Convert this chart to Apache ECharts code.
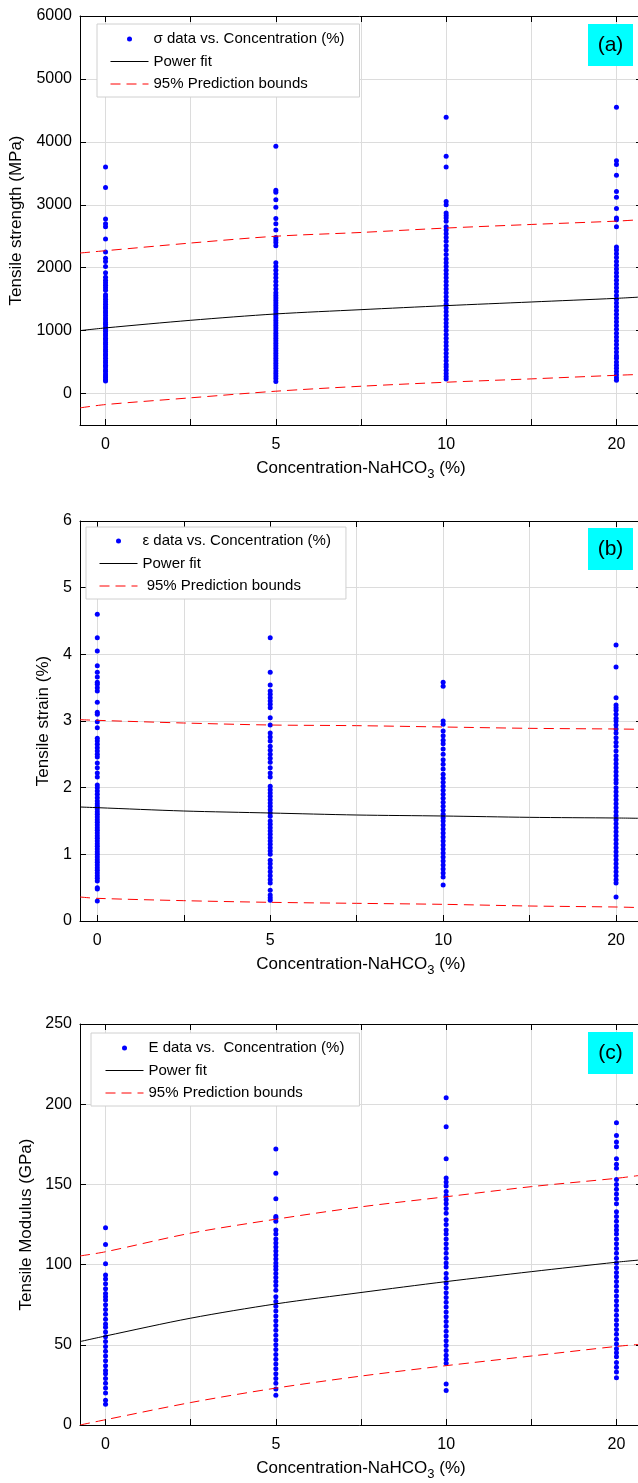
<!DOCTYPE html>
<html><head><meta charset="utf-8">
<script src="https://cdn.jsdelivr.net/npm/echarts@6/dist/echarts.min.js"></script>
<style>html,body{margin:0;padding:0;background:#fff}#c{width:638px;height:1483px}</style>
</head><body><div id="c"></div>
<script>
// ---- categories / ticks ----
const catPos = [0, 5, 10, 15];
const catLabels = ['0', '5', '10', '20'];
const xTickPos = [0, 2.5, 5, 7.5, 10, 12.5, 15];

// ---- panel (a) tensile strength (MPa) ----
const sigma0 = [3600, 3275, 2775, 2700, 2650, 2455, 2250, 2150, 2100, 2020, 1920, 1850, 1800, 1760, 1720, 1680, 1640, 1570, 1540, 1500, 1460, 1420, 1380, 1350, 1310, 1280, 1240, 1200, 1170, 1130, 1100, 1060, 1020, 990, 950, 920, 880, 850, 810, 780, 740, 700, 670, 630, 600, 560, 520, 490, 450, 420, 380, 350, 310, 280, 250, 220, 200];
const sigma5 = [3930, 3230, 3200, 3080, 2960, 2780, 2700, 2600, 2480, 2440, 2400, 2350, 2080, 2020, 1960, 1900, 1840, 1780, 1720, 1660, 1600, 1560, 1520, 1480, 1440, 1400, 1360, 1320, 1280, 1240, 1200, 1160, 1120, 1080, 1040, 1000, 960, 920, 880, 840, 800, 760, 720, 680, 640, 600, 560, 520, 480, 440, 400, 360, 320, 280, 240, 190];
const sigma10 = [4390, 3770, 3600, 3050, 3000, 2870, 2830, 2790, 2740, 2650, 2600, 2540, 2480, 2420, 2350, 2280, 2210, 2140, 2080, 2020, 1960, 1900, 1840, 1780, 1720, 1660, 1600, 1540, 1480, 1420, 1360, 1300, 1240, 1180, 1120, 1060, 1000, 940, 880, 820, 760, 700, 640, 580, 520, 460, 420, 370, 320, 270, 230];
const sigma20 = [4550, 3700, 3640, 3470, 3210, 3120, 2940, 2790, 2760, 2650, 2330, 2280, 2220, 2160, 2100, 2040, 1980, 1920, 1860, 1800, 1740, 1680, 1620, 1560, 1500, 1440, 1380, 1320, 1260, 1200, 1140, 1080, 1020, 960, 900, 840, 780, 720, 660, 600, 560, 500, 450, 400, 350, 300, 250, 210];
const fitPosA = [-0.75, 0, 2.5, 5, 7.5, 10, 12.5, 15, 15.75];
const sigmaFit = [1000, 1043, 1164, 1265, 1333, 1397, 1455, 1513, 1535];
const sigmaUp = [2233, 2270, 2392, 2500, 2560, 2630, 2687, 2740, 2765];
const sigmaLo = [-228, -175, -68, 37, 116, 180, 233, 290, 305];

// ---- panel (b) tensile strain (%) ----
const eps0 = [4.6, 4.25, 4.05, 3.83, 3.73, 3.66, 3.58, 3.55, 3.5, 3.45, 3.28, 3.13, 3.1, 2.99, 2.9, 2.74, 2.7, 2.65, 2.6, 2.55, 2.5, 2.46, 2.37, 2.3, 2.22, 2.16, 2.04, 2.0, 1.95, 1.9, 1.85, 1.8, 1.76, 1.72, 1.68, 1.64, 1.6, 1.56, 1.52, 1.48, 1.44, 1.4, 1.36, 1.32, 1.28, 1.24, 1.2, 1.16, 1.12, 1.08, 1.04, 1.0, 0.96, 0.92, 0.88, 0.84, 0.8, 0.76, 0.72, 0.68, 0.64, 0.6, 0.5, 0.48, 0.3];
const eps5 = [4.25, 3.73, 3.54, 3.45, 3.4, 3.35, 3.3, 3.25, 3.2, 3.05, 2.94, 2.82, 2.76, 2.7, 2.62, 2.56, 2.5, 2.44, 2.38, 2.3, 2.22, 2.16, 2.02, 1.97, 1.92, 1.87, 1.82, 1.77, 1.72, 1.67, 1.62, 1.57, 1.5, 1.45, 1.4, 1.35, 1.3, 1.25, 1.2, 1.15, 1.1, 1.05, 1.0, 0.91, 0.86, 0.8, 0.74, 0.68, 0.62, 0.57, 0.46, 0.39, 0.35, 0.31];
const eps10 = [3.58, 3.52, 3.0, 2.95, 2.85, 2.78, 2.71, 2.66, 2.58, 2.5, 2.42, 2.35, 2.28, 2.2, 2.14, 2.08, 2.02, 1.96, 1.9, 1.84, 1.78, 1.72, 1.66, 1.6, 1.55, 1.5, 1.44, 1.38, 1.32, 1.26, 1.2, 1.14, 1.08, 1.02, 0.96, 0.9, 0.84, 0.78, 0.72, 0.66, 0.54];
const eps20 = [4.14, 3.81, 3.35, 3.24, 3.2, 3.16, 3.1, 3.04, 3.0, 2.94, 2.88, 2.82, 2.75, 2.68, 2.62, 2.55, 2.48, 2.42, 2.36, 2.3, 2.24, 2.18, 2.12, 2.07, 2.0, 1.94, 1.88, 1.82, 1.76, 1.7, 1.64, 1.58, 1.52, 1.46, 1.4, 1.34, 1.28, 1.22, 1.16, 1.1, 1.04, 0.98, 0.92, 0.86, 0.8, 0.74, 0.68, 0.62, 0.57, 0.36];
const fitPosB = [-0.5, 0, 2.5, 5, 7.5, 10, 12.5, 15, 15.75];
const epsFit = [1.71, 1.70, 1.65, 1.62, 1.59, 1.575, 1.555, 1.545, 1.54];
const epsUp = [3.02, 3.01, 2.97, 2.94, 2.93, 2.91, 2.89, 2.88, 2.875];
const epsLo = [0.36, 0.34, 0.305, 0.28, 0.265, 0.25, 0.225, 0.21, 0.2];

// ---- panel (c) tensile modulus (GPa) ----
const E0 = [123, 112.5, 100.5, 93.5, 91, 88, 85, 82, 80, 78, 75, 72, 69, 66, 63, 61, 58, 55, 52, 49, 46, 43, 40, 37, 34, 32, 29, 26, 23, 20, 15.5, 13];
const E5 = [172, 157, 141, 130, 129, 127, 121.5, 119, 116, 113.5, 111, 108.5, 106, 103.5, 101, 99, 97, 94.5, 92, 89.5, 87, 84, 80, 77, 74, 71, 68, 65, 62, 59, 56, 53, 50, 47, 44, 41, 38, 35, 32, 29, 26, 22.5, 18.5];
const E10 = [204, 186, 166, 154, 151.5, 149, 145.5, 143, 140.5, 138, 135, 132, 128, 125, 121.5, 119, 116, 113, 110, 107, 104, 101, 98.5, 94.5, 91.5, 88.5, 85.5, 82.5, 79.5, 76.5, 73.5, 70.5, 67.5, 64.5, 61.5, 58.5, 55.5, 52.5, 49.5, 46.5, 43.5, 41, 38.5, 25.5, 21.5];
const E20 = [188.5, 180.5, 176.5, 173.5, 166, 162.5, 160, 153, 150, 147, 144, 141, 138, 133, 130, 127, 124, 121.5, 119, 116, 113, 110, 107, 104, 101, 98, 95, 92.5, 89.5, 86.5, 83.5, 80.5, 77.5, 74.5, 71.5, 68.5, 65.5, 62.5, 59.5, 56.5, 53.5, 50.5, 47.5, 45, 42.5, 39, 36, 33, 29.5];
const EFit = [52, 55.5, 66.6, 75.5, 82.6, 89.4, 95.6, 101.5, 103];
const EUp = [105.4, 108, 119.6, 128.3, 136, 142.3, 148.6, 153.8, 155.8];
const ELo = [0, 3.3, 14, 23, 30.5, 37, 43, 49, 50.4];

// ---- text ----
const legendA = ['σ data vs. Concentration (%)', 'Power fit', '95% Prediction bounds'];
const legendB = ['ε data vs. Concentration (%)', 'Power fit', ' 95% Prediction bounds'];
const legendC = ['E data vs.  Concentration (%)', 'Power fit', '95% Prediction bounds'];
const yNames = ['Tensile strength (MPa)', 'Tensile strain (%)', 'Tensile Modulus (GPa)'];
const xName = 'Concentration-NaHCO{sub|3} (%)';
const panelTags = ['(a)', '(b)', '(c)'];

const FF = '"Liberation Sans", Arial, sans-serif';

function colPoints(cols) {
  const out = [];
  cols.forEach((arr, i) => arr.forEach(v => out.push([catPos[i], v])));
  return out;
}
function pairs(xs, ys) { return xs.map((x, i) => [x, ys[i]]); }

const grids = [
  { left: 80, right: -4, top: 16, height: 409, outerBoundsMode: 'none', containLabel: false },
  { left: 80, right: -4, top: 521, height: 400, outerBoundsMode: 'none', containLabel: false },
  { left: 80, right: -4, top: 1024, height: 401, outerBoundsMode: 'none', containLabel: false }
];
const xRanges = [[-0.75, 15.75], [-0.5, 15.75], [-0.75, 15.75]];
const yCfg = [
  { min: -500, max: 6000, ticks: [0, 1000, 2000, 3000, 4000, 5000, 6000], gap: 55 },
  { min: 0, max: 6, ticks: [0, 1, 2, 3, 4, 5, 6], gap: 27 },
  { min: 0, max: 250, ticks: [0, 50, 100, 150, 200, 250], gap: 45 }
];

const xAxis = [], yAxis = [];
for (let g = 0; g < 3; g++) {
  const [mn, mx] = xRanges[g];
  xAxis.push({
    type: 'value', gridIndex: g, min: mn, max: mx, position: 'bottom',
    axisLine: { show: true, onZero: false, lineStyle: { color: '#000', width: 1 } },
    axisTick: { show: true, inside: true, length: 6, customValues: xTickPos, lineStyle: { color: '#000' } },
    axisLabel: { show: true, customValues: catPos, formatter: v => catLabels[catPos.indexOf(Math.round(v))], fontSize: 16, color: '#000', margin: 12, fontFamily: FF },
    splitLine: { show: true, lineStyle: { color: '#dcdcdc', width: 1 } },
    name: xName, nameLocation: 'middle', nameGap: 33,
    nameTextStyle: { fontSize: 17, color: '#000', fontFamily: FF, lineHeight: 20,
      rich: { sub: { fontSize: 13, color: '#000', fontFamily: FF, lineHeight: 13, padding: [10, 0, 0, 0], verticalAlign: 'top' } } }
  });
  xAxis.push({
    type: 'value', gridIndex: g, min: mn, max: mx, position: 'top',
    axisLine: { show: true, onZero: false, lineStyle: { color: '#000', width: 1 } },
    axisTick: { show: true, inside: true, length: 6, customValues: xTickPos, lineStyle: { color: '#000' } },
    axisLabel: { show: false }, splitLine: { show: false }
  });
  const yc = yCfg[g];
  yAxis.push({
    type: 'value', gridIndex: g, min: yc.min, max: yc.max, position: 'left',
    axisLine: { show: true, onZero: false, lineStyle: { color: '#000', width: 1 } },
    axisTick: { show: true, inside: true, length: 6, customValues: yc.ticks, lineStyle: { color: '#000' } },
    axisLabel: { show: true, customValues: yc.ticks, formatter: v => String(v), fontSize: 16, color: '#000', margin: 8, fontFamily: FF },
    splitLine: { show: true, lineStyle: { color: '#dcdcdc', width: 1 } },
    name: yNames[g], nameLocation: 'middle', nameGap: yc.gap, nameRotate: 90,
    nameTextStyle: { fontSize: 17, color: '#000', fontFamily: FF }
  });
  yAxis.push({
    type: 'value', gridIndex: g, min: yc.min, max: yc.max, position: 'right',
    axisLine: { show: true, onZero: false, lineStyle: { color: '#000', width: 1 } },
    axisTick: { show: true, inside: true, length: 6, customValues: yc.ticks, lineStyle: { color: '#000' } },
    axisLabel: { show: false }, splitLine: { show: false }
  });
}

const panels = [
  { cols: [sigma0, sigma5, sigma10, sigma20], fx: fitPosA, fit: sigmaFit, up: sigmaUp, lo: sigmaLo, names: legendA },
  { cols: [eps0, eps5, eps10, eps20], fx: fitPosB, fit: epsFit, up: epsUp, lo: epsLo, names: legendB },
  { cols: [E0, E5, E10, E20], fx: fitPosA, fit: EFit, up: EUp, lo: ELo, names: legendC }
];

const series = [];
panels.forEach((p, g) => {
  const ax = { xAxisIndex: 2 * g, yAxisIndex: 2 * g };
  series.push(Object.assign({
    type: 'scatter', name: p.names[0], data: colPoints(p.cols),
    symbol: 'circle', symbolSize: 5, itemStyle: { color: '#0000ff', opacity: 1 }, z: 2
  }, ax));
  series.push(Object.assign({
    type: 'line', name: p.names[1], data: pairs(p.fx, p.fit), symbol: 'none', showSymbol: false, smooth: 0.3,
    lineStyle: { color: '#000000', width: 1 }, itemStyle: { color: '#000' }, z: 3
  }, ax));
  [p.up, p.lo].forEach(arr => series.push(Object.assign({
    type: 'line', name: p.names[2], data: pairs(p.fx, arr), symbol: 'none', showSymbol: false, smooth: 0.3,
    lineStyle: { color: '#ff0000', width: 1, type: [10, 6] }, itemStyle: { color: '#ff0000' }, z: 3
  }, ax)));
});

const legendPos = [
  { left: 97, top: 24, padding: [7.5, 15, 5.5, 13], itemTextGap: 10 },
  { left: 86, top: 527, padding: [6.5, 15, 5.5, 13], itemTextGap: 8 },
  { left: 91, top: 1033, padding: [7.5, 15, 5.5, 14], itemTextGap: 7 }
];
const legend = panels.map((p, g) => Object.assign({
  orient: 'vertical', itemWidth: 38, itemHeight: 5, itemGap: 7.5,
  backgroundColor: '#ffffff', borderColor: '#d0d0d0', borderWidth: 1, selectedMode: false,
  lineStyle: { width: 1 },
  textStyle: { fontSize: 15, color: '#000', fontFamily: FF },
  data: p.names.map((n, k) => k === 0 ? { name: n } : { name: n, itemStyle: { opacity: 0 }, lineStyle: { width: 1 } })
}, legendPos[g]));

const tagBoxes = [24, 528, 1032];
const graphic = [];
tagBoxes.forEach((t, i) => {
  graphic.push({ type: 'rect', left: 588, top: t, shape: { width: 45, height: 42 }, style: { fill: '#00ffff' }, z: 100 });
  graphic.push({ type: 'text', x: 610.5, y: t + 21, z: 101,
    style: { text: panelTags[i], fontSize: 21, fontFamily: FF, fill: '#000', align: 'center', verticalAlign: 'middle' } });
});

const chart = echarts.init(document.getElementById('c'), null, { renderer: 'canvas' });
chart.setOption({
  animation: false,
  backgroundColor: '#ffffff',
  grid: grids, xAxis, yAxis, series, legend, graphic
});
</script></body></html>
